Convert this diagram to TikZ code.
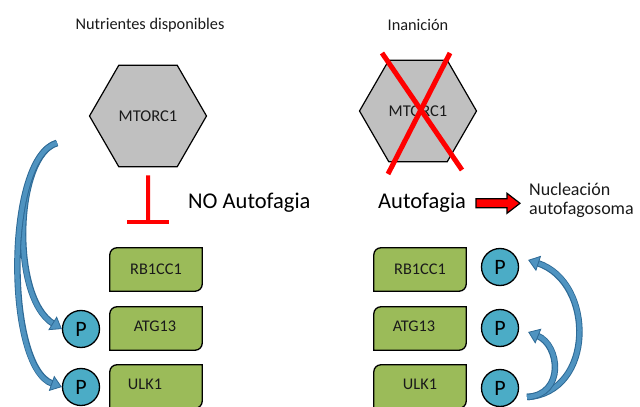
\documentclass[tikz,border=0pt]{standalone}
\usepackage{fontspec}
\setmainfont{Carlito}
\usetikzlibrary{shapes.geometric,arrows.meta}
\definecolor{hexgray}{HTML}{C0C0C0}
\definecolor{boxgreen}{HTML}{9BBB59}
\definecolor{pblue}{HTML}{4BACC6}
\definecolor{arrlight}{HTML}{4F93C0}
\definecolor{arrdark}{HTML}{2E6A96}
\definecolor{txt}{HTML}{1A1A1A}
\newcommand{\greenbox}[1]{%
  \draw[gboxline] (#1.south west) -- ([yshift=-7pt]#1.north west)
    arc[start angle=180,end angle=90,radius=7pt] -- (#1.north east)
    -- ([yshift=7pt]#1.south east)
    arc[start angle=0,end angle=-90,radius=7pt] -- cycle;}
\begin{document}
\begin{tikzpicture}[x=1pt,y=1pt,
  small/.style={font=\fontsize{16.3}{19}\selectfont, text=txt, inner sep=0pt},
  big/.style={font=\fontsize{22.5}{26}\selectfont, text=black, inner sep=0pt},
  mid/.style={font=\fontsize{18}{20}\selectfont, text=txt, inner sep=0pt},
  hexa/.style={regular polygon, regular polygon sides=6, minimum size=117pt,
    fill=hexgray, draw=black, line width=1.2pt, inner sep=0pt,
    font=\fontsize{16.5}{19}\selectfont, text=txt},
  boxslot/.style={rectangle, minimum width=92pt, minimum height=43pt, inner sep=0pt},
  gboxline/.style={fill=boxgreen, draw=black, line width=1.3pt},
  pcirc/.style={circle, minimum size=37pt, inner sep=0pt, fill=pblue,
    draw=black, line width=1.3pt, font=\fontsize{22}{24}\selectfont},
  inhib/.style={draw=red, line width=4pt},
  crossline/.style={draw=red, line width=5pt},
  blockarr/.style={draw=black, fill=red, line width=1.2pt, line join=miter},
  curvarr/.style={line width=4.5pt, draw=arrlight,
    -{Triangle[length=11pt 0, width=16pt 0, fill=arrlight, color=arrdark, line width=0.8pt]},
    preaction={draw=arrdark, line width=6.5pt, shorten >=10pt, -}}
]
\useasboundingbox (0,0) rectangle (640,407);
\clip (0,0) rectangle (640,407);

% titles
\node[small] (nut) at (150,382) {Nutrientes disponibles};
\node[small] (ina) at (418,382) {Inanición};

% hexagons
\node[hexa] (hexL) at (148,291) {MTORC1};
\node[hexa] (hexR) at (418,296) {MTORC1};
\draw[crossline] ([shift={(-36,58)}]hexR.center) -- ([shift={(44,-59)}]hexR.center);
\draw[crossline] ([shift={(32,58)}]hexR.center) -- ([shift={(-30,-63)}]hexR.center);

% inhibition
\coordinate (tbar) at (148,185);
\draw[inhib] ([yshift=-8pt]hexL.south) -- (tbar);
\draw[inhib] ([xshift=-21pt]tbar) -- ([xshift=21pt]tbar);
\node[big, anchor=base west] (noaut) at (188,198) {NO Autofagia};

% autophagy
\node[big, anchor=base west] (aut) at (378,198) {Autofagia};
\coordinate (barr) at (476,203.7);
\draw[blockarr] ([yshift=-4.5pt]barr) -- ++(31,0) -- ++(0,-5.5) -- ++(13,10)
  -- ++(-13,10) -- ++(0,-5.5) -- ++(-31,0) -- cycle;
\node[mid, anchor=base west] (nuc1) at (529,211.3) {Nucleación};
\node[mid, anchor=base west] (nuc2) at (529,192) {autofagosoma};

% green boxes left
\node[boxslot] (bl1) at (156,137.5) {};
\node[boxslot] (bl2) at (156,78.5) {};
\node[boxslot] (bl3) at (156,20.5) {};
\greenbox{bl1}\greenbox{bl2}\greenbox{bl3}
\node[small] (tl1) at (156,138) {RB1CC1};
\node[small] (tl2) at (155,81) {ATG13};
\node[small] (tl3) at (145,22.5) {ULK1};

% green boxes right
\node[boxslot] (br1) at (420,137.5) {};
\node[boxslot] (br2) at (420,78.5) {};
\node[boxslot] (br3) at (420,20.5) {};
\greenbox{br1}\greenbox{br2}\greenbox{br3}
\node[small] (tr1) at (420,138) {RB1CC1};
\node[small] (tr2) at (414,81) {ATG13};
\node[small] (tr3) at (420,22.5) {ULK1};

% phosphates
\node[pcirc] (pl1) at (81,78) {P};
\node[pcirc] (pl2) at (81,20) {P};
\node[pcirc] (pr1) at (500,140) {P};
\node[pcirc] (pr2) at (500,79) {P};
\node[pcirc] (pr3) at (500,19) {P};

% curved arrows
\coordinate (tailL) at (57,264);
\draw[curvarr] (tailL) .. controls (15,252) and (10,110) .. (pl1.west);
\draw[curvarr] (tailL) .. controls (5,250) and (5,40) .. (pl2.west);
\coordinate (tailR) at (527,10);
\draw[curvarr] (tailR) .. controls (595,14) and (595,125) .. ([xshift=9pt,yshift=7pt]pr1.east);
\draw[curvarr] (tailR) .. controls (565,12) and (560,62) .. ([xshift=9pt,yshift=-4pt]pr2.east);
\end{tikzpicture}
\end{document}
